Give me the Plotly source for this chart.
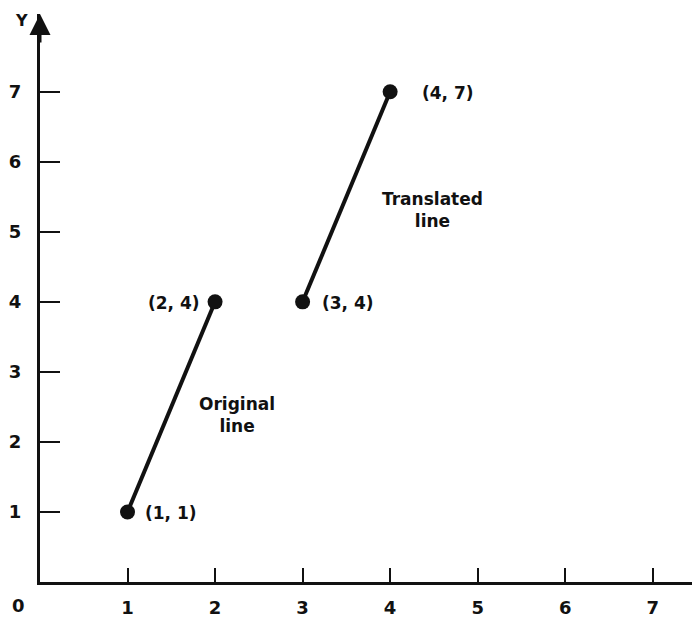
import plotly.graph_objects as go

# Data
original_x = [1, 2]
original_y = [1, 4]
translated_x = [3, 4]
translated_y = [4, 7]
tick_vals = [1, 2, 3, 4, 5, 6, 7]
tick_text = ["1", "2", "3", "4", "5", "6", "7"]
point_labels = ["(1, 1)", "(2, 4)", "(3, 4)", "(4, 7)"]

FONT = "DejaVu Sans, Arial, sans-serif"
INK = "#111"

fig = go.Figure()
for xs, ys in [(original_x, original_y), (translated_x, translated_y)]:
    fig.add_trace(go.Scatter(
        x=xs, y=ys, mode="lines+markers",
        line=dict(color=INK, width=4),
        marker=dict(color=INK, size=15),
        showlegend=False, hoverinfo="skip", cliponaxis=False,
    ))

all_x = original_x + translated_x
all_y = original_y + translated_y
label_cfg = [("left", 15), ("right", -13), ("left", 17), ("left", 30)]
for (px, py, txt, (anc, sh)) in zip(all_x, all_y, point_labels, label_cfg):
    fig.add_annotation(x=px, y=py, text=txt, showarrow=False, xanchor=anc,
                       xshift=sh, yshift=-1,
                       font=dict(family=FONT, size=17, color=INK, weight="bold"))

fig.add_annotation(x=2.25, y=2.39, text="Original<br>line", showarrow=False,
                   font=dict(family=FONT, size=17, color=INK, weight="bold"))
fig.add_annotation(x=4.48, y=5.31, text="Translated<br>line", showarrow=False,
                   font=dict(family=FONT, size=17, color=INK, weight="bold"))

# Origin label and Y label
fig.add_annotation(x=0, y=0, text="0", showarrow=False, xshift=-22, yshift=-23,
                   font=dict(family=FONT, size=18, color=INK, weight="bold"))
fig.add_annotation(xref="paper", yref="paper", x=0, y=1, text="Y", showarrow=False,
                   xshift=-19, yshift=-6, xanchor="center", yanchor="middle",
                   font=dict(family=FONT, size=16, color=INK, weight="bold"))
# Y arrow head
fig.add_annotation(xref="paper", yref="paper", x=0, y=1, ax=0, ay=30,
                   showarrow=True, arrowhead=2, arrowsize=1.4, arrowwidth=3,
                   arrowcolor=INK, text="")

# page body has an 8px margin: compensate so the plot area sits where intended
fig.update_layout(
    width=692, height=622,
    margin=dict(l=32, r=0, t=6, b=48),
    paper_bgcolor="white", plot_bgcolor="white",
    xaxis=dict(range=[0, 7.54], showgrid=False, zeroline=False,
               showline=True, linewidth=3, linecolor=INK,
               ticks="inside", ticklen=14, tickwidth=2, tickcolor=INK,
               tickvals=tick_vals, ticktext=tick_text, ticklabelstandoff=7,
               tickfont=dict(family=FONT, size=18, color=INK, weight="bold")),
    yaxis=dict(range=[0, 8.11], showgrid=False, zeroline=False,
               showline=True, linewidth=3, linecolor=INK,
               ticks="inside", ticklen=20, tickwidth=2, tickcolor=INK,
               tickvals=tick_vals, ticktext=tick_text, ticklabelstandoff=12,
               tickfont=dict(family=FONT, size=18, color=INK, weight="bold")),
)

fig.write_html("out.html")
